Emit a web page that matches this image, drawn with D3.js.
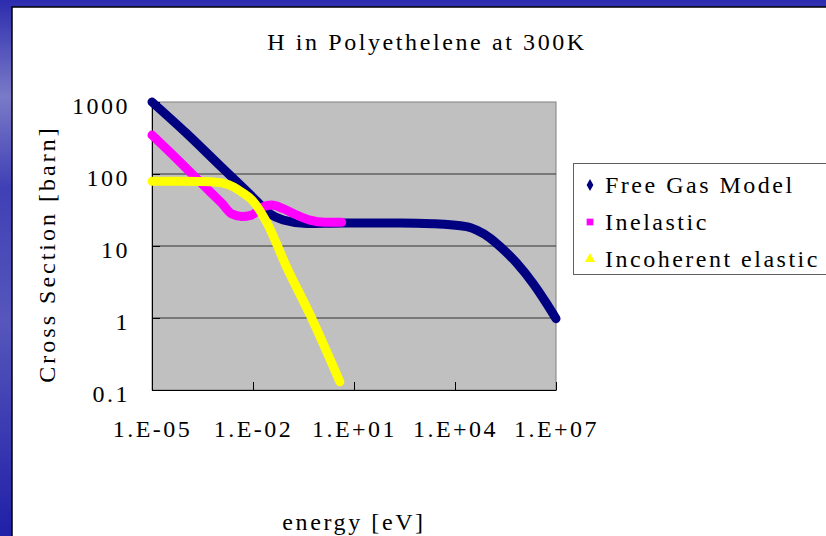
<!DOCTYPE html>
<html>
<head>
<meta charset="utf-8">
<script src="https://cdn.jsdelivr.net/npm/d3@7"></script>
<style>
  body { margin: 0; background: #fff; }
  svg { display: block; }
  text { font-family: "Liberation Serif", "DejaVu Serif", serif; fill: #000; }
</style>
</head>
<body>
<svg id="chart" width="826" height="536"></svg>
<script>
// tick values and labels
var xTicks = [1e-5, 1e-2, 1e1, 1e4, 1e7];
var xTickLabels = ["1.E-05", "1.E-02", "1.E+01", "1.E+04", "1.E+07"];
var yTicks = [0.1, 1, 10, 100, 1000];
var yTickLabels = ["0.1", "1", "10", "100", "1000"];

var seriesNames = ["Free Gas Model", "Inelastic", "Incoherent elastic"];
var seriesColors = ["#000080", "#ff00ff", "#ffff00"];

// Free gas model (energy eV, cross section barn)
var freeGasE = [1e-5, 1e-4, 1e-3, 3.2e-3, 1.3e-2, 3.2e-2, 7.9e-2, 0.39, 4.8, 230, 2200, 2.2e4, 4.4e4, 1.1e5, 2.2e5, 6.8e5, 2.1e6, 5.2e6, 1e7];
var freeGasS = [1000, 376, 133, 79, 42, 28, 23, 20.6, 20.9, 20.9, 20.4, 18.6, 16.6, 12.9, 9.8, 5.8, 3.0, 1.6, 0.98];

// Inelastic
var inelE = [1e-5, 6.0e-5, 1.9e-4, 4.7e-4, 1.2e-3, 2.3e-3, 4.6e-3, 9.1e-3, 1.9e-2, 3.6e-2, 7.9e-2, 0.2, 0.49, 1.4, 4.3];
var inelS = [347, 155, 91, 60, 39, 28, 25.7, 26.9, 34.7, 37, 33, 26.9, 22.9, 21.4, 21.4];

// Incoherent elastic
var incohE = [1e-5, 1e-4, 5.9e-4, 1.9e-3, 4.6e-3, 1.0e-2, 2.6e-2, 0.1, 0.49, 3.8];
var incohS = [79, 79, 78, 71, 56, 42, 21, 5.1, 1.12, 0.13];

var svg = d3.select("#chart");

// blue slide frame
var grad = svg.append("defs").append("linearGradient")
    .attr("id", "frame").attr("x1", 0).attr("y1", 0).attr("x2", 0).attr("y2", 1);
grad.append("stop").attr("offset", "0%").attr("stop-color", "#2c2cae");
grad.append("stop").attr("offset", "18%").attr("stop-color", "#7a7ac8");
grad.append("stop").attr("offset", "35%").attr("stop-color", "#4040b6");
grad.append("stop").attr("offset", "60%").attr("stop-color", "#5656bc");
grad.append("stop").attr("offset", "100%").attr("stop-color", "#2020a8");
svg.append("rect").attr("width", 826).attr("height", 536).attr("fill", "url(#frame)");
svg.append("rect").attr("x", 12).attr("y", 7).attr("width", 820).attr("height", 540)
    .attr("fill", "#fff").attr("stroke", "#000").attr("stroke-width", 1.5);

var x = d3.scaleLog().domain([1e-5, 1e7]).range([152, 556]);
var y = d3.scaleLog().domain([0.1, 1000]).range([390, 102]);

// plot area
svg.append("rect")
    .attr("x", x(1e-5)).attr("y", y(1000))
    .attr("width", x(1e7) - x(1e-5)).attr("height", y(0.1) - y(1000))
    .attr("fill", "#c0c0c0").attr("stroke", "#808080");

svg.append("g").selectAll("line")
  .data(yTicks.slice(1, 4))
  .enter().append("line")
    .attr("x1", x(1e-5)).attr("x2", x(1e7))
    .attr("y1", function (d) { return y(d); })
    .attr("y2", function (d) { return y(d); })
    .attr("stroke", "#333");

var xAxis = d3.axisBottom(x).tickValues(xTicks)
    .tickFormat(function (d, i) { return xTickLabels[i]; })
    .tickSizeInner(-8).tickSizeOuter(0).tickPadding(0);
var yAxis = d3.axisLeft(y).tickValues(yTicks)
    .tickFormat(function (d, i) { return yTickLabels[i]; })
    .tickSizeInner(-8).tickSizeOuter(0).tickPadding(22);

var gx = svg.append("g").attr("transform", "translate(0," + y(0.1) + ")").call(xAxis);
var gy = svg.append("g").attr("transform", "translate(" + x(1e-5) + ",0)").call(yAxis);

[gx, gy].forEach(function (g) {
  g.attr("font-family", null);
  g.select(".domain").attr("stroke", "#000");
  g.selectAll(".tick line").attr("stroke", "#000");
  g.selectAll(".tick text")
    .style("font-size", "24px")
    .style("letter-spacing", "2.5px")
    .attr("fill", "#000");
});
gx.selectAll(".tick text").attr("y", 47).attr("dy", 0);
gy.selectAll(".tick text").attr("dy", 11);

// series
var line = d3.line()
    .x(function (d) { return x(d[0]); })
    .y(function (d) { return y(d[1]); })
    .curve(d3.curveMonotoneX);

var series = [
  d3.zip(freeGasE, freeGasS),
  d3.zip(inelE, inelS),
  d3.zip(incohE, incohS)
];

svg.append("g").selectAll("path")
  .data(series)
  .enter().append("path")
    .attr("d", line)
    .attr("fill", "none")
    .attr("stroke", function (d, i) { return seriesColors[i]; })
    .attr("stroke-width", 9)
    .attr("stroke-linejoin", "round")
    .attr("stroke-linecap", "round");

// titles
svg.append("text")
    .attr("x", 427).attr("y", 50)
    .attr("text-anchor", "middle")
    .style("font-size", "24px").style("letter-spacing", "2.6px")
    .text("H in Polyethelene at 300K");

svg.append("text")
    .attr("x", 354).attr("y", 530)
    .attr("text-anchor", "middle")
    .style("font-size", "24px").style("letter-spacing", "2.6px")
    .text("energy [eV]");

svg.append("text")
    .attr("transform", "translate(55,254) rotate(-90)")
    .attr("text-anchor", "middle")
    .style("font-size", "24px").style("letter-spacing", "3px")
    .text("Cross Section [barn]");

// legend
var legend = svg.append("g").attr("transform", "translate(573,163)");
legend.append("rect")
    .attr("x", 0.5).attr("y", 0.5).attr("width", 300).attr("height", 111)
    .attr("fill", "#fff").attr("stroke", "#606060");

var symbols = [d3.symbolDiamond, d3.symbolSquare, d3.symbolTriangle];
var rows = legend.selectAll(".row")
  .data(seriesNames)
  .enter().append("g")
    .attr("class", "row")
    .attr("transform", function (d, i) { return "translate(0," + (22 + i * 37) + ")"; });

rows.append("path")
    .attr("transform", "translate(17,0)")
    .attr("d", function (d, i) { return d3.symbol().type(symbols[i]).size(i === 0 ? 40 : 45)(); })
    .attr("fill", function (d, i) { return seriesColors[i]; });

rows.append("text")
    .attr("x", 32).attr("y", 8)
    .style("font-size", "24px").style("letter-spacing", "2.5px")
    .text(function (d) { return d; });
</script>
</body>
</html>
